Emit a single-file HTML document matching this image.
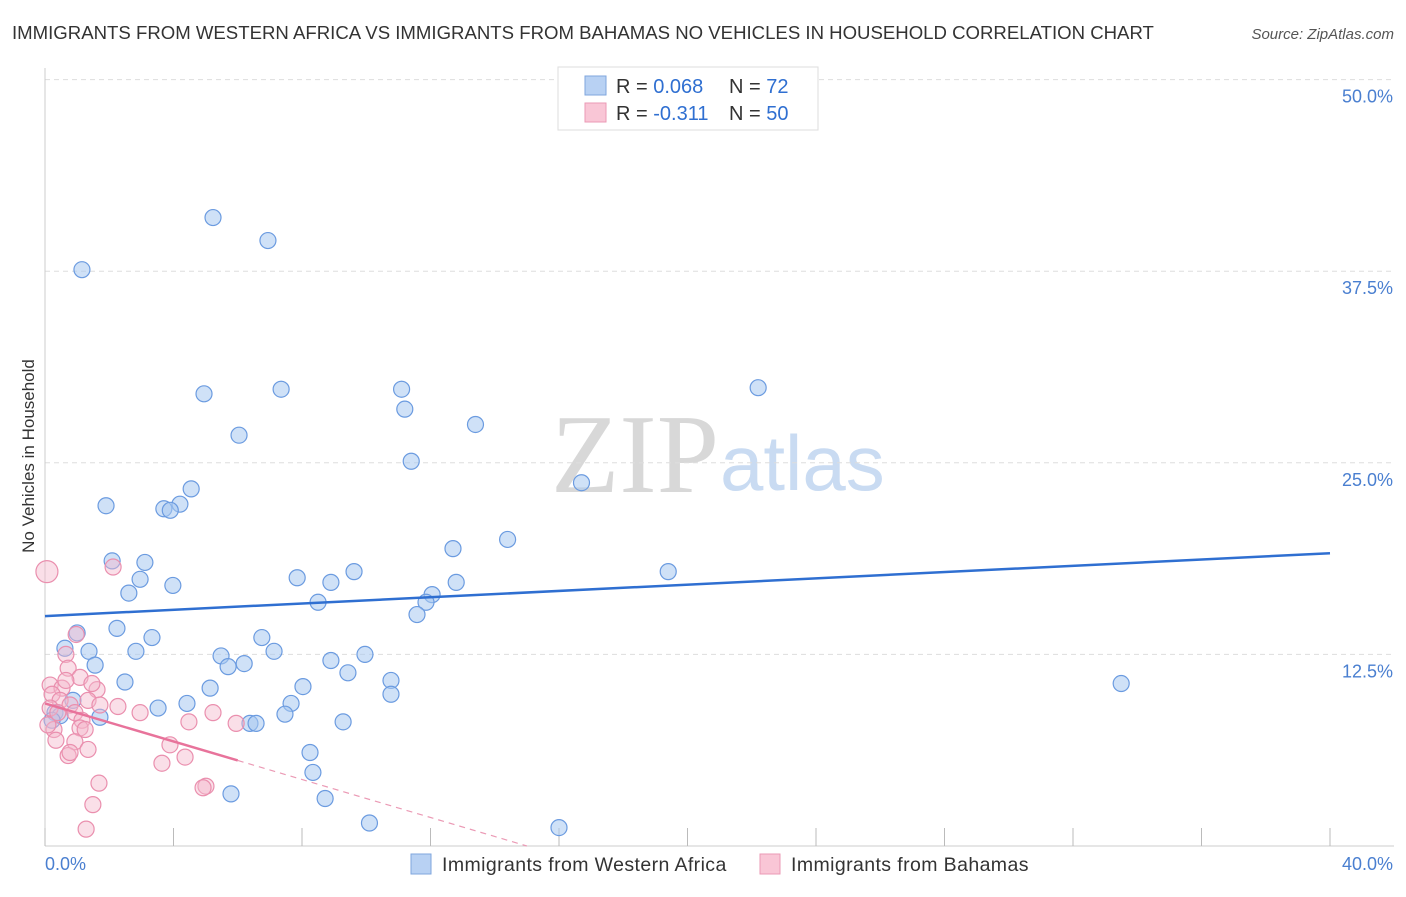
<!DOCTYPE html>
<html><head><meta charset="utf-8"><style>
body{margin:0;background:#fff;font-family:"Liberation Sans",sans-serif;}
svg text{font-family:"Liberation Sans",sans-serif;}
</style></head><body>
<svg id="chart" width="1406" height="892">
<text x="12" y="39" font-size="18.6" fill="#333">IMMIGRANTS FROM WESTERN AFRICA VS IMMIGRANTS FROM BAHAMAS NO VEHICLES IN HOUSEHOLD CORRELATION CHART</text>
<text x="1394" y="39" font-size="15" fill="#555" font-style="italic" text-anchor="end">Source: ZipAtlas.com</text>
<text x="635" y="492" font-size="112" fill="#d8d8d8" text-anchor="middle" style="font-family:'Liberation Serif',serif">ZIP</text>
<text x="720" y="490" font-size="78" fill="#c9dbf2">atlas</text>
<text transform="translate(34,456) rotate(-90)" font-size="17" fill="#333" text-anchor="middle">No Vehicles in Household</text>
<g id="grid"></g><g id="axes"></g><g id="marks"></g>
<g>
<rect x="558" y="67" width="260" height="63" fill="#fff" stroke="#ddd"/>
<rect x="585" y="76" width="21" height="19" fill="#b8d1f3" stroke="#7fa6de"/>
<rect x="585" y="103" width="21" height="19" fill="#f9c6d6" stroke="#eb9ab5"/>
<text x="616" y="93" font-size="20" fill="#333">R = <tspan fill="#2f6fd1">0.068</tspan></text>
<text x="729" y="93" font-size="20" fill="#333">N = <tspan fill="#2f6fd1"> 72</tspan></text>
<text x="616" y="120" font-size="20" fill="#333">R = <tspan fill="#2f6fd1">-0.311</tspan></text>
<text x="729" y="120" font-size="20" fill="#333">N = <tspan fill="#2f6fd1">50</tspan></text>
</g>
<g>
<rect x="411" y="854" width="20" height="20" fill="#b8d1f3" stroke="#7fa6de"/>
<text x="442" y="871" font-size="19.5" letter-spacing="0.4" fill="#333">Immigrants from Western Africa</text>
<rect x="760" y="854" width="20" height="20" fill="#f9c6d6" stroke="#eb9ab5"/>
<text x="791" y="871" font-size="19.5" letter-spacing="0.4" fill="#333">Immigrants from Bahamas</text>
</g>
</svg>
<script>
const xTicks=[0,40];
const yTicks=[12.5,25,37.5,50];
const blueX=[1.15,5.23,6.94,4.95,7.35,11.1,11.2,6.04,13.4,11.4,22.2,16.7,1.9,4.55,4.2,3.7,3.9,14.4,12.7,2.09,3.11,2.96,2.61,3.98,7.85,8.9,9.62,12.8,12.05,11.86,8.5,11.58,19.4,2.24,3.33,6.75,1.0,0.62,1.37,2.83,5.48,7.13,9.96,8.9,1.56,5.7,6.2,9.43,2.49,5.14,8.03,10.77,10.77,33.5,0.87,3.52,4.42,7.66,7.47,0.31,0.47,0.22,1.71,6.38,6.57,9.28,8.25,8.34,5.79,8.72,10.1,16.0];
const blueY=[37.6,41.0,39.5,29.5,29.8,29.8,28.5,26.8,27.5,25.1,29.9,23.7,22.2,23.3,22.3,22.0,21.9,20.0,19.4,18.6,18.5,17.4,16.5,17.0,17.5,17.2,17.9,17.2,16.4,15.9,15.9,15.1,17.9,14.2,13.6,13.6,13.9,12.9,12.7,12.7,12.4,12.7,12.5,12.1,11.8,11.7,11.9,11.3,10.7,10.3,10.4,10.8,9.9,10.6,9.5,9.0,9.3,9.3,8.6,8.7,8.5,8.2,8.4,8.0,8.0,8.1,6.1,4.8,3.4,3.1,1.5,1.2];
const pinkX=[2.12,0.97,0.65,0.72,1.09,0.16,0.53,1.62,0.65,1.46,0.22,0.47,1.34,0.78,1.71,2.27,2.96,0.16,0.93,1.15,4.48,5.23,5.95,0.28,1.09,1.25,0.34,0.93,1.34,0.72,0.78,3.89,4.36,3.64,1.68,5.01,4.92,1.49,1.28,0.09,0.4];
const pinkY=[18.2,13.8,12.5,11.6,11.0,10.5,10.3,10.2,10.8,10.6,9.9,9.5,9.5,9.2,9.2,9.1,8.7,9.0,8.7,8.2,8.1,8.7,8.0,7.6,7.7,7.6,6.9,6.8,6.3,5.9,6.1,6.6,5.8,5.4,4.1,3.9,3.8,2.7,1.1,7.9,8.7];
const pinkBigX=[0.06], pinkBigY=[17.9];
const blueLine=[15.0,19.1];
const pinkLine=[9.3,-0.62];
const pinkSolidEnd=6.0, pinkDashEnd=15.0;

const NS="http://www.w3.org/2000/svg";
const X=v=>45+v/40*1285;
const Y=v=>846-v/12.5*191.6;
function mk(tag,attrs,parent){const e=document.createElementNS(NS,tag);for(const k in attrs)e.setAttribute(k,attrs[k]);parent.appendChild(e);return e;}
const grid=document.getElementById('grid'),axes=document.getElementById('axes'),marks=document.getElementById('marks');
yTicks.forEach(t=>{
 const l=mk('line',{x1:45,x2:1394,y1:Y(t),y2:Y(t),stroke:'#ddd','stroke-dasharray':'5,4'},grid);
 
 
 const tx=mk('text',{x:1393,y:Y(t)+23,'font-size':18,fill:'#4a7fd0','text-anchor':'end'},axes);
 tx.textContent=t.toFixed(1)+'%';
 
 
});
const ya=mk('line',{x1:45,x2:45,y1:68,y2:846,stroke:'#ccc'},axes);


const xa=mk('line',{x1:45,x2:1394,y1:846,y2:846,stroke:'#ccc'},axes);


for(let i=0;i<=10;i++){
 const tk=mk('line',{x1:X(i*4),x2:X(i*4),y1:828,y2:846,stroke:'#bbb'},axes);
 
 
}
xTicks.forEach((t,i)=>{
 const tx=mk('text',{x:i==0?45:1393,y:870,'font-size':18,fill:'#4a7fd0','text-anchor':i==0?'start':'end'},axes);
 tx.textContent=t.toFixed(1)+'%';
 
 
});
blueX.forEach((x,i)=>{
 const c=mk('circle',{cx:X(x),cy:Y(blueY[i]),r:8,fill:'rgba(168,200,240,0.55)',stroke:'#6b9be0','stroke-width':1.2},marks);
 
 
});
pinkX.forEach((x,i)=>{
 const c=mk('circle',{cx:X(x),cy:Y(pinkY[i]),r:8,fill:'rgba(245,184,204,0.45)',stroke:'#ea8fae','stroke-width':1.2},marks);
 
 
});
pinkBigX.forEach((x,i)=>{
 const c=mk('circle',{cx:X(x),cy:Y(pinkBigY[i]),r:11,fill:'rgba(245,184,204,0.45)',stroke:'#ea8fae','stroke-width':1.2},marks);
 
 
});
const bl=mk('line',{x1:X(0),y1:Y(blueLine[0]),x2:X(40),y2:Y(blueLine[1]),stroke:'#2f6fd1','stroke-width':2.5},marks);


const pl=mk('line',{x1:X(0),y1:Y(pinkLine[0]),x2:X(pinkSolidEnd),y2:Y(pinkLine[0]+pinkLine[1]*pinkSolidEnd),stroke:'#e8739b','stroke-width':2.5},marks);


const pd=mk('line',{x1:X(pinkSolidEnd),y1:Y(pinkLine[0]+pinkLine[1]*pinkSolidEnd),x2:X(pinkDashEnd),y2:Y(Math.max(0,pinkLine[0]+pinkLine[1]*pinkDashEnd)),stroke:'#eb9ab5','stroke-width':1.2,'stroke-dasharray':'6,5'},marks);


</script>
</body></html>
